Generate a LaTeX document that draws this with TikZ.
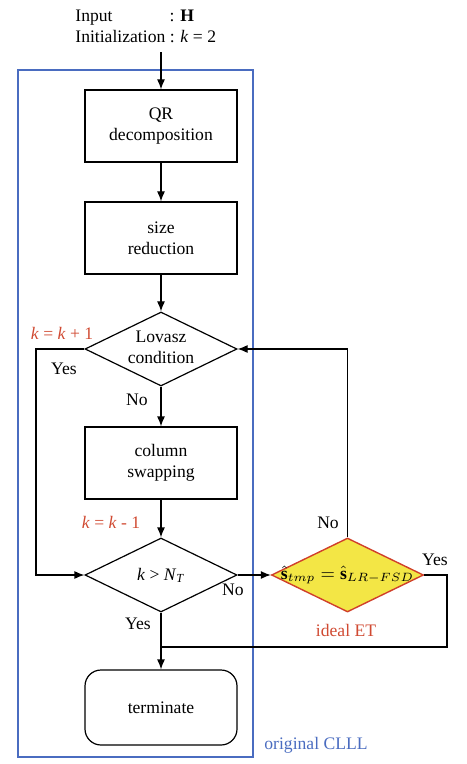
\documentclass[tikz,border=0pt]{standalone}
\usepackage{fontspec}
\setmainfont{Liberation Serif}
\usetikzlibrary{shapes.geometric,arrows.meta,positioning}
\definecolor{frameblue}{HTML}{4A6CC0}
\definecolor{labelred}{HTML}{D04A32}
\definecolor{etyellow}{HTML}{F3E645}
\definecolor{etborder}{HTML}{D0402A}
\tikzset{
    >={Latex[length=5pt,width=4pt]},
    font={\fontsize{8.8pt}{10.5pt}\selectfont},
}

\begin{document}
\begin{tikzpicture}[x=0.5pt,y=-0.5pt]
\tikzstyle{process} = [rectangle, draw, line width=0.6pt, minimum width=76pt, minimum height=36pt, align=center, inner sep=0pt]
\tikzstyle{decision} = [diamond, draw, line width=0.6pt, minimum width=76pt, minimum height=37pt, inner sep=0pt]
\tikzstyle{flow} = [draw, ->, line width=0.6pt]
\tikzstyle{note} = [inner sep=1pt]

\useasboundingbox (0,0) rectangle (466,764);

% Frame
\draw[frameblue, line width=0.8pt] (18,70) rectangle (253,757);
\node[note, text=frameblue] (clll) at (316,745) {original CLLL};

% Input
\node[anchor=west, inner sep=0pt] (inp) at (75,28) {\begin{tabular}{@{}l@{\ }l@{}}Input & : \textbf{H}\\ Initialization & : \textit{k} = 2\end{tabular}};

% Steps
\node[process] (qr) at (161,126) {QR\\decomposition};
\node[process] (size) at (161,238) {size\\reduction};
\node[decision] (lovasz) at (161,349) {\makebox[0pt]{\begin{tabular}{@{}c@{}}Lovasz\\condition\end{tabular}}};
\node[process] (swap) at (161,463) {column\\swapping};
\node[decision] (kcheck) at (161,575) {\makebox[0pt]{\textit{k} > \textit{N}\textsubscript{\textit{T}}}};
\node[decision, fill=etyellow, draw=etborder, line width=0.7pt] (et) at (347.5,575) {\makebox[0pt]{$\hat{\mathbf{s}}_{tmp}=\hat{\mathbf{s}}_{LR-FSD}$}};
\node[process, rounded corners=8pt, minimum height=37.5pt] (term) at (161,707.5) {terminate};

% Labels
\node[note, text=labelred] (kinc) at (62,333) {\textit{k} = \textit{k} + 1};
\node[note, text=labelred] (kdec) at (111,522) {\textit{k} = \textit{k} - 1};
\node[note, text=labelred] (ideal) at (346,630) {ideal ET};
\node[note] (yes1) at (64,369) {Yes};
\node[note] (no1) at (137,400) {No};
\node[note] (no2) at (233,590) {No};
\node[note] (yes2) at (138,624) {Yes};
\node[note] (no3) at (328,523) {No};
\node[note] (yes3) at (435,560) {Yes};

% Corners
\coordinate (loopL) at (36,349);
\coordinate (loopR) at (447,647);
\coordinate (merge) at (161,647);

% Flow
\draw[flow, shorten <=1.5pt] (qr.north |- inp.south) -- (qr);
\draw[flow] (qr) -- (size);
\draw[flow] (size) -- (lovasz);
\draw[flow] (lovasz) -- (swap);
\draw[flow] (swap) -- (kcheck);
\draw[flow] (lovasz.west) -- (loopL) |- (kcheck.west);
\draw[flow] (kcheck.east) -- (et.west);
\draw[flow] (et.north) |- (lovasz.east);
\draw[line width=0.6pt] (et.east) -| (loopR) -- (merge);
\draw[flow] (kcheck.south) -- (term.north);
\end{tikzpicture}
\end{document}
